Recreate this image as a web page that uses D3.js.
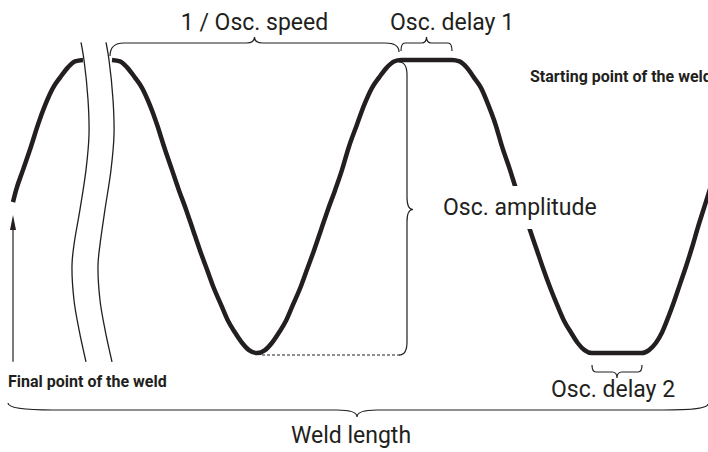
<!DOCTYPE html>
<html><head><meta charset="utf-8">
<script src="https://cdn.jsdelivr.net/npm/d3@7"></script>
<style>html,body{margin:0;padding:0;background:#fff;overflow:hidden}</style>
</head><body>
<svg id="c" width="708" height="452"></svg>
<script>
// ---- data (position along the weld in arbitrary units, oscillation in amplitude units) ----
const positionDomain = [0, 140];
const amplitudeDomain = [-1, 1];
// end of weld (left piece, before the break)
const finalPiece = [[0.6,0.03],[1.2,0.11],[2.6,0.25],[4.2,0.41],[5.6,0.56],[7,0.69],[8.6,0.81],[10,0.88],[11.6,0.95],[13,0.99],[14.6,1]];
// main oscillation (after the break): fall, rise, delay 1, fall, delay 2, rise
const fallA = [[20.4,1],[22,0.99],[23.4,0.95],[25,0.88],[26.4,0.81],[28,0.69],[29.4,0.56],[30.8,0.41],[32.4,0.25],[33.8,0.11],[35.2,-0.02],
  [36.6,-0.16],[38,-0.3],[39.4,-0.43],[40.8,-0.56],[42.2,-0.67],[43.6,-0.78],[45,-0.86],[46.4,-0.93],[47.8,-0.98],[49.4,-1]];
const riseA = [[51,-0.98],[52.4,-0.93],[53.8,-0.86],[55.2,-0.78],[56.6,-0.67],[58,-0.56],[59.4,-0.43],[60.8,-0.3],[62.2,-0.16],[63.6,-0.02],
  [65,0.11],[66.4,0.25],[67.8,0.41],[69.4,0.56],[70.8,0.69],[72.4,0.81],[73.8,0.88],[75.4,0.95],[76.8,0.99],[78.2,1]];
const fallB = [[88.4,1],[89.9,0.99],[91.3,0.95],[92.8,0.88],[94.2,0.81],[95.7,0.69],[97.1,0.56],[98.4,0.41],[100,0.25],[101.3,0.11],[102.7,-0.02],
  [104,-0.16],[105.4,-0.3],[106.7,-0.43],[108.1,-0.56],[109.4,-0.67],[110.8,-0.78],[112.2,-0.86],[113.5,-0.93],[114.9,-0.98],[116.4,-1]];
const riseB = [[126.4,-1],[127.8,-0.98],[129.2,-0.93],[130.4,-0.86],[131.6,-0.76],[132.8,-0.65],[134,-0.53],[135.2,-0.41],[136.4,-0.28],
  [137.6,-0.14],[138.8,-0.01],[140,0.12],[141.2,0.26]];
// break marks
const breakLineA = [[14.2,1.12],[14.8,1],[15.6,0.73],[15.8,0.49],[15.2,0.25],[14,-0.02],[12.8,-0.26],[12.4,-0.4],[12.8,-0.64],[13.8,-0.84],[15.2,-1.06]];
const breakLineB = [[19.2,1.12],[19.8,1],[20.6,0.73],[20.8,0.49],[20.2,0.25],[19,-0.02],[18,-0.26],[17.6,-0.4],[18,-0.64],[19,-0.84],[20.4,-1.06]];
// key positions
const peakA = 20.4, troughA = 49.4, peakB = 78.2;
const delay1 = [78.2, 88.4];
const delay2 = [116.4, 126.4];
const weldStart = 0.6;
// labels
const labelSpeed = "1 / Osc. speed";
const labelDelay1 = "Osc. delay 1";
const labelAmplitude = "Osc. amplitude";
const labelDelay2 = "Osc. delay 2";
const labelLength = "Weld length";
const labelStart = "Starting point of the weld";
const labelFinal = "Final point of the weld";

// ---- drawing ----
const ink = "#231f20";
const svg = d3.select("#c");
const x = d3.scaleLinear().domain(positionDomain).range([10, 710]);
const y = d3.scaleLinear().domain(amplitudeDomain).range([353, 60]);

const wave = d3.line().x(d => x(d[0])).y(d => y(d[1])).curve(d3.curveMonotoneX);
const thin = d3.line().x(d => x(d[0])).y(d => y(d[1])).curve(d3.curveCatmullRom);
const mainPiece = fallA.concat(riseA, fallB, riseB);

svg.append("path").attr("d", wave(finalPiece)).attr("fill","none").attr("stroke",ink).attr("stroke-width",4.5);
svg.append("path").attr("d", wave(mainPiece)).attr("fill","none").attr("stroke",ink).attr("stroke-width",4.5);

[breakLineA, breakLineB].forEach(b => {
  svg.append("path").attr("d", thin(b)).attr("fill","none").attr("stroke",ink).attr("stroke-width",1.3);
});

function hBrace(x0, x1, yy, xt, h0, h1, t, r, r2) {
  return `M${x0},${yy+h0} Q${x0},${yy} ${x0+r},${yy} L${xt-r2},${yy} Q${xt},${yy} ${xt},${yy+t} Q${xt},${yy} ${xt+r2},${yy} L${x1-r},${yy} Q${x1},${yy} ${x1},${yy+h1}`;
}
function vBrace(xx, y0, y1, yt, h, t, r, r2) {
  return `M${xx+h},${y0} Q${xx},${y0} ${xx},${y0+r} L${xx},${yt-r2} Q${xx},${yt} ${xx+t},${yt} Q${xx},${yt} ${xx},${yt+r2} L${xx},${y1-r} Q${xx},${y1} ${xx+h},${y1}`;
}
const braceStyle = p => p.attr("fill","none").attr("stroke",ink).attr("stroke-width",1.2);

// 1 / Osc. speed
const sx0 = x(peakA) - 2, sx1 = x(peakB) - 2;
svg.append("path").attr("d", hBrace(sx0, sx1, y(1) - 17, (sx0+sx1)/2, 13, 9, -6, 14, 8)).call(braceStyle);
// Osc delay 1
const d1a = x(delay1[0]), d1b = x(delay1[1]);
svg.append("path").attr("d", hBrace(d1a, d1b, y(1) - 17, (d1a+d1b)/2, 8, 8, -6, 4, 5)).call(braceStyle);
// Osc delay 2
const d2a = x(delay2[0]), d2b = x(delay2[1]);
svg.append("path").attr("d", hBrace(d2a, d2b, y(-1) + 19, (d2a+d2b)/2, -7, -7, 6, 4, 5)).call(braceStyle);
// amplitude
const ax = x(peakB) + 6;
svg.append("path").attr("d", vBrace(ax, y(1) + 2, y(-1) + 2, (y(1)+y(-1))/2 + 3, -8, 6, 13, 12)).call(braceStyle);
// dashed baseline from trough to amplitude brace
svg.append("line").attr("x1", x(troughA) + 5).attr("x2", ax - 6).attr("y1", y(-1) + 2).attr("y2", y(-1) + 2)
  .attr("stroke", ink).attr("stroke-width", 1).attr("stroke-dasharray", "3,2");
// weld length
svg.append("path").attr("d", hBrace(x(positionDomain[0]) - 2, x(positionDomain[1]) - 2, 410, 357, -7, -6, 7, 45, 20)).call(braceStyle);

// arrow at final point
const arrowX = x(weldStart);
svg.append("line").attr("x1", arrowX).attr("x2", arrowX).attr("y1", y(-1.06)).attr("y2", y(finalPiece[0][1]) + 22)
  .attr("stroke", ink).attr("stroke-width", 1.2);
const tipY = y(finalPiece[0][1]) + 13;
svg.append("path").attr("d", `M${arrowX},${tipY} L${arrowX+3},${tipY+15} L${arrowX-3},${tipY+15} Z`).attr("fill", ink);

// labels
const big = (t, px, py, anchor) => svg.append("text").text(t).attr("x", px).attr("y", py)
  .attr("text-anchor", anchor || "start").attr("font-family", "Roboto, 'Noto Sans', sans-serif")
  .attr("font-size", 23).attr("fill", ink);
big(labelSpeed, (sx0+sx1)/2, 30, "middle");
big(labelDelay1, 390, 30);
// amplitude label sits on a white patch that hides the wave behind it
const ampText = big(labelAmplitude, 443, 215);
const bb = ampText.node().getBBox();
svg.insert("rect", () => ampText.node()).attr("x", bb.x - 4).attr("y", bb.y - 8).attr("width", bb.width + 8).attr("height", bb.height + 16).attr("fill", "#fff");
big(labelDelay2, 551, 397);
big(labelLength, 351, 443, "middle");

const small = (t, px, py) => svg.append("text").text(t).attr("x", px).attr("y", py)
  .attr("font-family", "Roboto, 'Noto Sans', sans-serif").attr("font-weight", "bold")
  .attr("font-size", 16).attr("fill", ink);
small(labelStart, 530, 82);
small(labelFinal, 8, 387);
</script>
</body></html>
